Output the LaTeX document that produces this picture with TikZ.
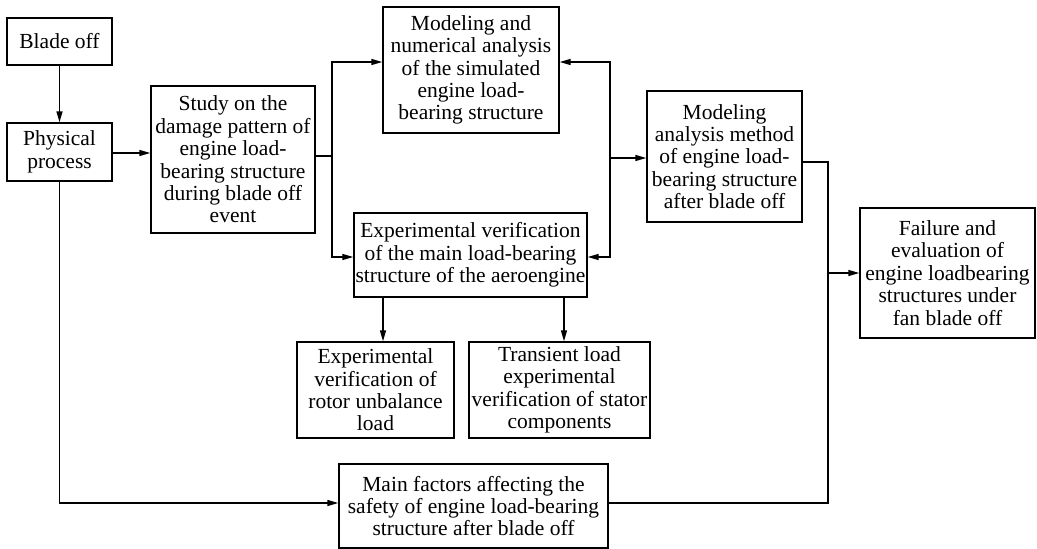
\documentclass[tikz,border=0pt]{standalone}
\usepackage{fontspec}
\setmainfont{Liberation Serif}
\usetikzlibrary{positioning,arrows.meta}

\begin{document}
\begin{tikzpicture}[x=1pt,y=-1pt,
    box/.style={draw,line width=1.4pt,align=center,inner sep=1pt,font=\fontsize{21.5}{22.4}\selectfont},
    arr/.style={-{Triangle[length=11pt,width=6pt]},line width=1.4pt},
    wire/.style={line width=1.4pt}]
  \useasboundingbox (0,0) rectangle (1037,549);
  \node[box,minimum width=105pt,minimum height=47pt] (blade) at (59.5,41.5) {Blade off};
  \node[box,minimum width=105pt,minimum height=58pt] (phys) at (59.5,152) {Physical\\process};
  \node[box,minimum width=164pt,minimum height=147pt] (study) at (233,159.5) {Study on the\\damage pattern of\\engine load-\\bearing structure\\during blade off\\event};
  \node[box,minimum width=176pt,minimum height=126pt] (model) at (471,70) {Modeling and\\numerical analysis\\of the simulated\\engine load-\\bearing structure};
  \node[box,minimum width=233pt,minimum height=84pt] (expmain) at (470.5,255) {Experimental verification\\of the main load-bearing\\structure of the aeroengine};
  \node[box,minimum width=157pt,minimum height=96pt] (rotor) at (375.5,390) {Experimental\\verification of\\rotor unbalance\\load};
  \node[box,minimum width=181pt,minimum height=96pt] (stator) at (559.5,390) {Transient load\\experimental\\verification of stator\\components};
  \node[box,minimum width=269pt,minimum height=84pt] (factors) at (473.5,506) {Main factors affecting the\\safety of engine load-bearing\\structure after blade off};
  \node[box,minimum width=155pt,minimum height=131pt] (method) at (724.5,156.5) {Modeling\\analysis method\\of engine load-\\bearing structure\\after blade off};
  \node[box,minimum width=175pt,minimum height=130pt] (failure) at (947.5,273) {Failure and\\evaluation of\\engine loadbearing\\structures under\\fan blade off};

  % junction points
  \coordinate (jl) at (332,156);
  \coordinate (jtop) at (332,62);
  \coordinate (jbot) at (332,257);
  \coordinate (jr) at (610,158);
  \coordinate (jout) at (828,273);
  \coordinate (jlow) at (59.5,503);

  \draw[arr] (blade) -- (phys);
  \draw[arr] (phys.east |- 0,153) -- (study.west |- 0,153);
  \draw[wire] (study.east |- jl) -- (jl);
  \draw[arr] (jl) |- (jtop -| model.west);
  \draw[arr] (jl) |- (jbot -| expmain.west);
  \draw[arr] (jr) -- (jr -| method.west);
  \draw[arr] (jr) |- (jtop -| model.east);
  \draw[arr] (jr) |- (jbot -| expmain.east);
  \draw[arr] (expmain.south -| 383,0) -- (rotor.north -| 383,0);
  \draw[arr] (expmain.south -| 564,0) -- (stator.north -| 564,0);
  \draw[arr] (phys.south) -- (jlow) -- (jlow -| factors.west);
  \draw[wire] (method.east |- 0,162) -| (jout) |- (factors.east |- jlow);
  \draw[arr] (jout) -- (jout -| failure.west);
\end{tikzpicture}
\end{document}
